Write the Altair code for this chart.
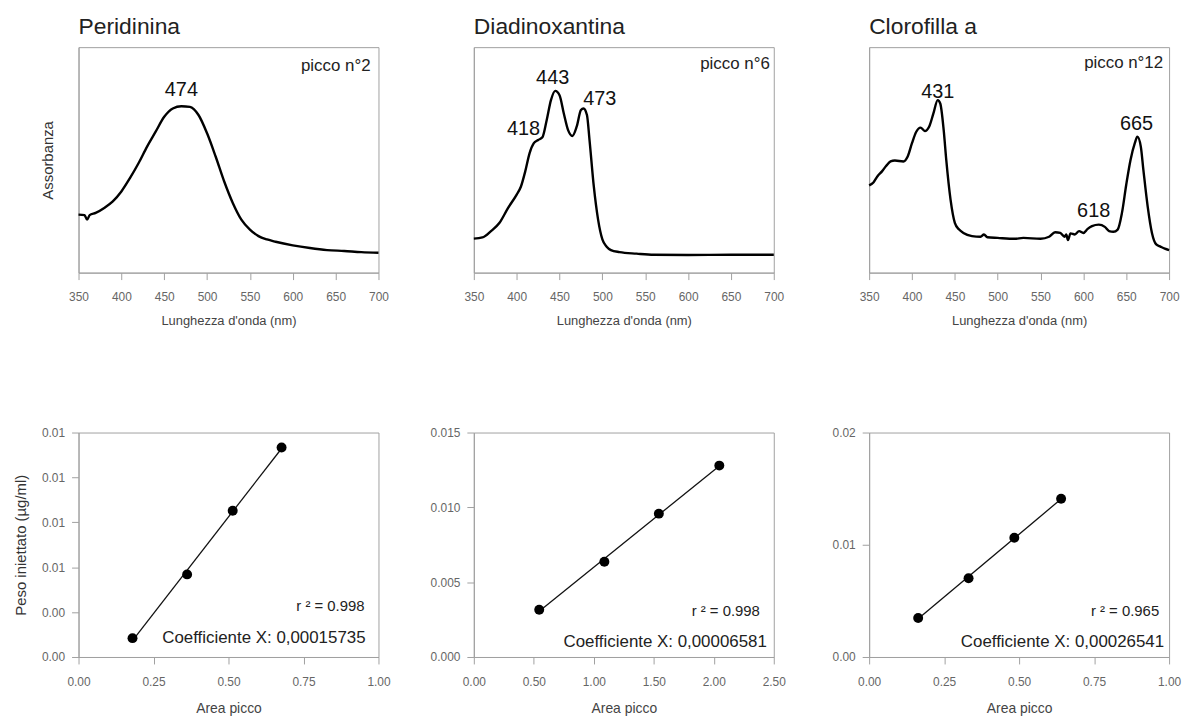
import altair as alt
import pandas as pd

FONT = "Liberation Sans"

# ---------------- Spectra (top row) ----------------
per_nm = [350, 357, 360, 363, 370, 380, 390, 400, 410, 420, 430, 440, 450, 460, 470, 480,
          490, 500, 510, 520, 530, 540, 550, 560, 570, 580, 600, 620, 640, 660, 680, 700]
per_abs = [0.257, 0.255, 0.235, 0.255, 0.265, 0.287, 0.316, 0.360, 0.419, 0.485, 0.559, 0.625,
           0.691, 0.728, 0.738, 0.735, 0.699, 0.618, 0.515, 0.404, 0.309, 0.235, 0.191, 0.162,
           0.147, 0.137, 0.121, 0.109, 0.100, 0.096, 0.091, 0.088]
per_pk_lab = ["474"]
per_pk_nm = [470]
per_pk_abs = [0.81]

dia_nm = [350, 360, 370, 380, 390, 400, 405, 410, 415, 420, 425, 430, 435, 440, 445, 450, 455,
          460, 465, 470, 475, 478, 482, 485, 490, 495, 500, 505, 510, 520, 540, 560, 600, 650, 700]
dia_abs = [0.151, 0.156, 0.184, 0.221, 0.287, 0.346, 0.382, 0.449, 0.529, 0.574, 0.588, 0.600,
           0.676, 0.765, 0.806, 0.787, 0.706, 0.632, 0.606, 0.647, 0.721, 0.728, 0.699, 0.588,
           0.382, 0.235, 0.147, 0.115, 0.100, 0.091, 0.084, 0.079, 0.078, 0.079, 0.079]
dia_pk_lab = ["418", "443", "473"]
dia_pk_nm = [408, 442, 497]
dia_pk_abs = [0.635, 0.865, 0.772]

clo_nm = [350, 355, 360, 365, 370, 375, 380, 390, 395, 400, 405, 410, 415, 420, 425, 430, 433,
          437, 440, 445, 450, 455, 460, 470, 480, 484, 488, 500, 520, 530, 550, 560, 567, 573,
          578, 580, 582, 585, 590, 595, 600, 605, 610, 618, 625, 630, 635, 640, 645, 650, 655,
          660, 663, 667, 670, 675, 680, 685, 690, 695, 700]
clo_abs = [0.387, 0.400, 0.429, 0.449, 0.474, 0.493, 0.497, 0.493, 0.515, 0.574, 0.625, 0.643,
           0.628, 0.647, 0.706, 0.765, 0.750, 0.632, 0.500, 0.324, 0.221, 0.191, 0.176, 0.162,
           0.159, 0.169, 0.157, 0.154, 0.150, 0.154, 0.150, 0.159, 0.179, 0.176, 0.159, 0.169,
           0.144, 0.174, 0.169, 0.184, 0.176, 0.194, 0.206, 0.213, 0.203, 0.184, 0.181, 0.191,
           0.265, 0.390, 0.500, 0.574, 0.603, 0.559, 0.456, 0.294, 0.176, 0.125, 0.115, 0.106,
           0.100]
clo_pk_lab = ["431", "665", "618"]
clo_pk_nm = [430, 662, 612]
clo_pk_abs = [0.80, 0.659, 0.272]

nm_ticks = [350, 400, 450, 500, 550, 600, 650, 700]

# ---------------- Calibrations (bottom row) ----------------
per_area = [0.18, 0.362, 0.514, 0.677]
per_peso = [0.00105, 0.0046, 0.00814, 0.01167]
dia_area = [0.545, 1.088, 1.542, 2.046]
dia_peso = [0.00316, 0.00637, 0.00958, 0.01279]
clo_area = [0.1635, 0.3315, 0.484, 0.640]
clo_peso = [0.00348, 0.00702, 0.01062, 0.0141]

W, H_TOP, H_BOT = 302, 227, 226


def spectrum(title, nm, ab, pk_lab, pk_nm, pk_ab, picco, picco_dx, picco_y, ytitle=""):
    df = pd.DataFrame({"nm": nm, "abs": ab})
    yaxis = dict(labels=False, ticks=False, grid=False)
    if ytitle:
        yaxis.update(title=ytitle, titleFontSize=15, titlePadding=23, titleColor="#333")
    else:
        yaxis.update(title="")
    x = alt.X("nm:Q", scale=alt.Scale(domain=[350, 700], nice=False, zero=False),
              axis=alt.Axis(values=nm_ticks, title="Lunghezza d'onda (nm)", titleFontSize=13,
                            labelPadding=12, titlePadding=12, format="d", grid=False))
    y = alt.Y("abs:Q", scale=alt.Scale(domain=[0, 1], nice=False, zero=False), axis=alt.Axis(**yaxis))
    line = alt.Chart(df).mark_line(color="black", strokeWidth=2.4, interpolate="monotone").encode(x=x, y=y)
    pk = pd.DataFrame({"lab": pk_lab, "nm": pk_nm, "abs": pk_ab})
    peaks = alt.Chart(pk).mark_text(fontSize=20, font=FONT, color="#111").encode(
        x="nm:Q", y="abs:Q", text="lab:N")
    pc = alt.Chart(pd.DataFrame({"t": [picco]})).mark_text(
        align="right", baseline="middle", fontSize=17, font=FONT, color="#222").encode(
        x=alt.value(W - picco_dx), y=alt.value(picco_y), text="t:N")
    return alt.layer(line, peaks, pc).properties(
        width=W, height=H_TOP,
        title=alt.TitleParams(title, anchor="start", frame="group", fontSize=23, font=FONT,
                              fontWeight="normal", color="#222", offset=8))


def calib(area, peso, xdom, xvals, ydom, yvals, yfmt, r2, coeff, r2_dx, r2_y, c_dx, c_y, ytitle=""):
    df = pd.DataFrame({"a": area, "p": peso})
    yaxis = dict(values=yvals, format=yfmt, grid=False, labelPadding=7)
    if ytitle:
        yaxis.update(title=ytitle, titleFontSize=15, titlePadding=13, titleColor="#333")
    else:
        yaxis.update(title="")
    x = alt.X("a:Q", scale=alt.Scale(domain=xdom, nice=False, zero=False),
              axis=alt.Axis(values=xvals, format=".2f", title="Area picco", titleFontSize=14,
                            labelPadding=13, titlePadding=14, grid=False))
    y = alt.Y("p:Q", scale=alt.Scale(domain=ydom, nice=False, zero=False), axis=alt.Axis(**yaxis))
    base = alt.Chart(df)
    fit = base.transform_regression("a", "p").mark_line(color="#111", strokeWidth=1.3).encode(x=x, y=y)
    pts = base.mark_circle(size=100, color="black", opacity=1).encode(x="a:Q", y="p:Q")
    t1 = alt.Chart(pd.DataFrame({"t": [r2]})).mark_text(
        align="right", baseline="middle", fontSize=15, font=FONT, color="#222").encode(
        x=alt.value(W - r2_dx), y=alt.value(r2_y), text="t:N")
    t2 = alt.Chart(pd.DataFrame({"t": [coeff]})).mark_text(
        align="right", baseline="middle", fontSize=17, font=FONT, color="#222").encode(
        x=alt.value(W - c_dx), y=alt.value(c_y), text="t:N")
    return alt.layer(fit, pts, t1, t2).properties(width=W, height=H_BOT)


top = alt.hconcat(
    spectrum("Peridinina", per_nm, per_abs, per_pk_lab, per_pk_nm, per_pk_abs, "picco n°2", 8, 19,
             ytitle="Assorbanza"),
    spectrum("Diadinoxantina", dia_nm, dia_abs, dia_pk_lab, dia_pk_nm, dia_pk_abs, "picco n°6", 4, 17),
    spectrum("Clorofilla a", clo_nm, clo_abs, clo_pk_lab, clo_pk_nm, clo_pk_abs, "picco n°12", 6, 16),
    spacing=96, bounds="flush")

bottom = alt.hconcat(
    calib(per_area, per_peso, [0, 1], [0, 0.25, 0.5, 0.75, 1.0], [0, 0.0125],
          [0, 0.0025, 0.005, 0.0075, 0.01, 0.0125], ".2f", "r ² = 0.998",
          "Coefficiente X: 0,00015735", 14, 175, 13, 207, ytitle="Peso iniettato (µg/ml)"),
    calib(dia_area, dia_peso, [0, 2.5], [0, 0.5, 1.0, 1.5, 2.0, 2.5], [0, 0.015],
          [0, 0.005, 0.01, 0.015], ".3f", "r ² = 0.998", "Coefficiente X: 0,00006581",
          14, 180, 7, 211),
    calib(clo_area, clo_peso, [0, 1], [0, 0.25, 0.5, 0.75, 1.0], [0, 0.02],
          [0, 0.01, 0.02], ".2f", "r ² = 0.965", "Coefficiente X: 0,00026541",
          10, 180, 5, 211),
    spacing=96, bounds="flush")

chart = alt.vconcat(top, bottom, spacing=98).properties(
    padding={"left": 5, "top": 5, "right": 0, "bottom": 0}, background="white"
).configure_view(stroke="#a0a0a0", strokeWidth=1).configure_axis(
    domainColor="#a0a0a0", tickColor="#a0a0a0", tickSize=7, labelColor="#666",
    labelFont=FONT, titleFont=FONT, labelFontSize=12, titleColor="#444",
    titleFontWeight="normal", grid=False, labelFlush=False
)

chart.save("out.html", embed_options={"renderer": "svg", "actions": False})
